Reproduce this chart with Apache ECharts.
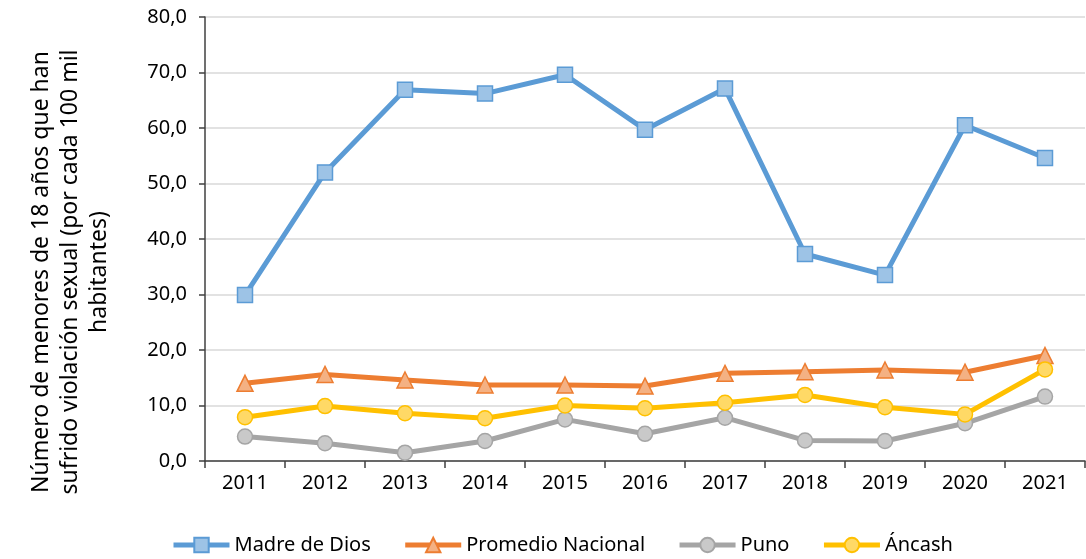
<!DOCTYPE html>
<html>
<head>
<meta charset="utf-8">
<script src="https://cdn.jsdelivr.net/npm/echarts@6/dist/echarts.min.js"></script>
<style>
html,body{margin:0;padding:0;background:#fff;}
#chart{width:1086px;height:559px;}
</style>
</head>
<body>
<div id="chart"></div>
<script>
const categories = ['2011','2012','2013','2014','2015','2016','2017','2018','2019','2020','2021'];
const madreDeDios = [29.9, 52.0, 66.9, 66.2, 69.6, 59.7, 67.1, 37.3, 33.5, 60.5, 54.6];
const promedioNacional = [14.0, 15.6, 14.6, 13.7, 13.7, 13.5, 15.8, 16.1, 16.4, 16.0, 19.0];
const puno = [4.4, 3.2, 1.5, 3.6, 7.5, 4.9, 7.8, 3.7, 3.6, 6.8, 11.6];
const ancash = [7.9, 9.9, 8.6, 7.7, 10.0, 9.5, 10.5, 11.9, 9.7, 8.4, 16.5];
const seriesNames = ['Madre de Dios', 'Promedio Nacional', 'Puno', 'Áncash'];
const yTitle = 'Número de menores de 18 años que han\nsufrido violación sexual (por cada 100 mil\nhabitantes)';

const FONT = 'Noto Sans';
const chart = echarts.init(document.getElementById('chart'), null, {renderer: 'canvas'});

function mkSeries(name, data, lineColor, fillColor, symbol, size) {
  return {
    name: name,
    type: 'line',
    data: data,
    symbol: symbol,
    symbolSize: size,
    showAllSymbol: true,
    lineStyle: {color: lineColor, width: 5},
    itemStyle: {color: fillColor, borderColor: lineColor, borderWidth: 1.5},
    emphasis: {disabled: true},
    animation: false
  };
}

chart.setOption({
  animation: false,
  grid: {left: 205, right: 1, top: 17, bottom: 98, containLabel: false},
  legend: {
    left: 166, top: 530,
    itemWidth: 56, itemHeight: 18, itemGap: 32,
    lineStyle: {width: 5},
    textStyle: {fontFamily: FONT, fontSize: 20, color: '#000'},
    data: seriesNames
  },
  xAxis: {
    type: 'category',
    data: categories,
    boundaryGap: true,
    axisLine: {lineStyle: {color: '#404040', width: 1.5}},
    axisTick: {show: true, length: 7, lineStyle: {color: '#404040', width: 1.5}},
    axisLabel: {fontFamily: FONT, fontSize: 20, color: '#000', margin: 12}
  },
  yAxis: {
    type: 'value',
    min: 0, max: 80, interval: 10,
    axisLine: {show: true, lineStyle: {color: '#404040', width: 1.5}},
    axisTick: {show: true, length: 6, lineStyle: {color: '#404040', width: 1.5}},
    splitLine: {lineStyle: {color: '#d9d9d9', width: 1.5}},
    axisLabel: {
      fontFamily: FONT, fontSize: 20, color: '#000', margin: 18,
      formatter: v => v.toFixed(1).replace('.', ',')
    }
  },
  graphic: [{
    type: 'text',
    x: 70, y: 272,
    rotation: Math.PI / 2,
    style: {
      text: yTitle,
      fontFamily: FONT, fontSize: 23, fill: '#000',
      align: 'center', verticalAlign: 'middle', lineHeight: 29
    }
  }],
  series: [
    mkSeries(seriesNames[0], madreDeDios, '#5B9BD5', '#9DC3E6', 'rect', 15),
    mkSeries(seriesNames[1], promedioNacional, '#ED7D31', '#F4B183', 'triangle', 16),
    mkSeries(seriesNames[2], puno, '#A5A5A5', '#C9C9C9', 'circle', 15),
    mkSeries(seriesNames[3], ancash, '#FFC000', '#FFD966', 'circle', 15)
  ]
});
</script>
</body>
</html>
